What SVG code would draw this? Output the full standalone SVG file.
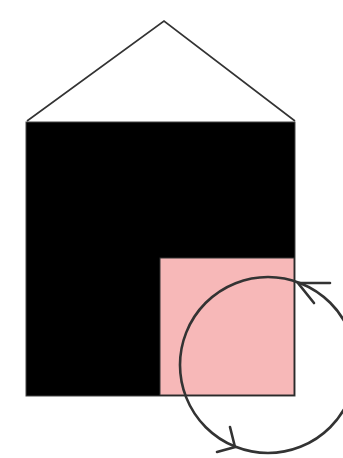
<svg xmlns="http://www.w3.org/2000/svg" width="343" height="458" viewBox="0 0 343 458">
<style>
.ln{fill:none;stroke:#333;stroke-width:1.6;stroke-linejoin:miter}
.cyc{fill:none;stroke:#333;stroke-width:2.6;stroke-linecap:round}
</style>
<rect width="343" height="458" fill="#fff"/>
<g id="roof"><polyline class="ln" points="27,121 164,21 295,121"/></g>
<g id="house"><rect x="26" y="122" width="269" height="274" fill="#000" stroke="#444" stroke-width="1"/></g>
<g id="room"><rect x="160" y="258" width="134" height="137" fill="#f7b8b8" stroke="#333" stroke-width="1"/></g>
<g id="connectors">
<circle class="cyc" cx="268" cy="365" r="88"/>
<polyline class="cyc" points="330,283 298,283 314,303"/>
<polyline class="cyc" points="230,427 235,447 217,452"/>
</g>
</svg>
